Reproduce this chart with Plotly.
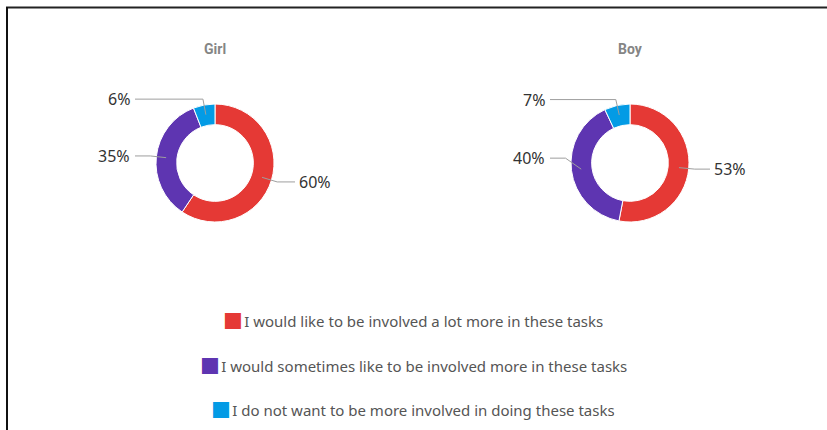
import math
import plotly.graph_objects as go

W, H = 827, 430

# Survey answers and their share (%) per group
categories = [
    "I would like to be involved a lot more in these tasks",
    "I would sometimes like to be involved more in these tasks",
    "I do not want to be more involved in doing these tasks",
]
groups = ["Girl", "Boy"]
girl_pct = [60, 35, 6]
boy_pct = [53, 40, 7]
colors = ["#E53935", "#5E35B1", "#039BE5"]

# Layout of the two donuts (pixels)
centers = {"Girl": (215, 163), "Boy": (630, 163)}
R = 59
HOLE = 0.65
label_nudge = {("Boy", 1): -13}  # lift one label to keep it clear of its neighbour

LABEL_FONT = "Noto Sans, Open Sans, sans-serif"


def px(x):
    return x / W


def py(y):
    return 1 - y / H


fig = go.Figure()
shapes = []
annotations = []

for g, vals in zip(groups, [girl_pct, boy_pct]):
    cx, cy = centers[g]
    fig.add_trace(go.Pie(
        labels=categories,
        values=vals,
        hole=HOLE,
        sort=False,
        direction="clockwise",
        rotation=0,
        marker=dict(colors=colors, line=dict(color="white", width=1)),
        textinfo="none",
        hoverinfo="label+value",
        showlegend=False,
        domain=dict(x=[px(cx - R), px(cx + R)], y=[py(cy + R), py(cy - R)]),
        name=g,
    ))
    annotations.append(dict(
        x=px(cx), y=py(49), xref="paper", yref="paper", text=f"<b>{g}</b>", showarrow=False,
        font=dict(family="Liberation Sans Narrow, Roboto, sans-serif", size=14, color="#858585"),
        xanchor="center", yanchor="middle",
    ))

    total = sum(vals)
    cum = 0
    r_mid = R * (1 + HOLE) / 2 + 0.5
    for i, v in enumerate(vals):
        a = 2 * math.pi * (cum + v / 2) / total
        cum += v
        s, c = math.sin(a), math.cos(a)
        x0, y0 = cx + r_mid * s, cy - r_mid * c
        ly = cy - (R + 6) * c + label_nudge.get((g, i), 0)
        x1 = cx + (R + 6) * s
        right = s >= 0
        x2 = cx + 80 if right else cx - 80
        shapes.append(dict(
            type="path", xref="paper", yref="paper",
            path=f"M {px(x0)},{py(y0)} L {px(x1)},{py(ly)} L {px(x2)},{py(ly)}",
            line=dict(color="#9e9e9e", width=1),
        ))
        annotations.append(dict(
            x=px(cx + 82 if right else cx - 83), y=py(ly), xref="paper", yref="paper",
            text=f"{v}%", showarrow=False,
            font=dict(family=LABEL_FONT, size=16, color="#333333"),
            xanchor="left" if right else "right", yanchor="middle",
        ))

# Legend rows, centred
for i, (lab, col) in enumerate(zip(categories, colors)):
    annotations.append(dict(
        x=px(413), y=py(318 + 44.5 * i), xref="paper", yref="paper",
        text=(f"<span style='color:{col};font-size:33px;baseline-shift:-4px'>■</span>"
              f"<span style='font-size:5px'> </span>{lab}"),
        showarrow=False,
        height=26, valign="middle",
        font=dict(family=LABEL_FONT, size=15, color="#555555"),
        xanchor="center", yanchor="middle",
    ))

# Frame lines along the top and left edge
shapes.append(dict(type="line", xref="paper", yref="paper",
                   x0=px(6), x1=1.01, y0=py(7.5), y1=py(7.5),
                   line=dict(color="#222222", width=2)))
shapes.append(dict(type="line", xref="paper", yref="paper",
                   x0=px(7), x1=px(7), y0=py(7), y1=-0.01,
                   line=dict(color="#111111", width=2)))

fig.update_layout(
    width=W, height=H,
    margin=dict(l=0, r=0, t=0, b=0),
    paper_bgcolor="white", plot_bgcolor="white",
    shapes=shapes, annotations=annotations,
    showlegend=False,
)

fig.write_html("out.html")
